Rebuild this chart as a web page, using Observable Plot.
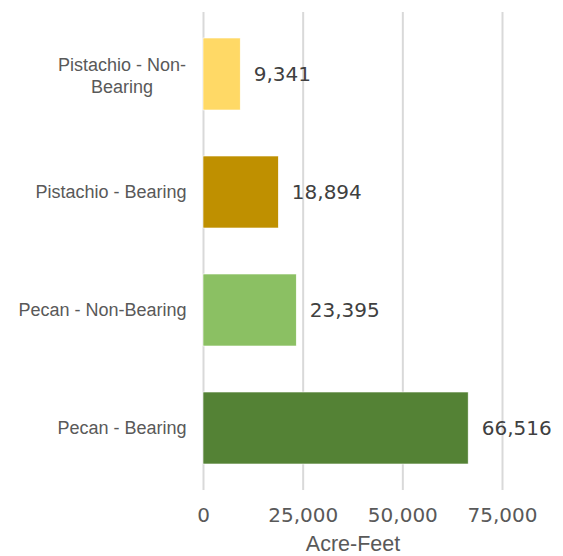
<!DOCTYPE html>
<html>
<head>
<meta charset="utf-8">
<script src="https://cdn.jsdelivr.net/npm/d3@7"></script>
<script src="https://cdn.jsdelivr.net/npm/@observablehq/plot@0.6"></script>
<style>
  html, body { margin: 0; padding: 0; background: #fff; }
  svg { display: block; }
</style>
</head>
<body>
<div id="chart"></div>
<script>
const categories = ["Pistachio - Non-\nBearing", "Pistachio - Bearing", "Pecan - Non-Bearing", "Pecan - Bearing"];
const values = [9341, 18894, 23395, 66516];
const colors = ["#FFD966", "#BF9000", "#8BC063", "#548235"];
const xTicks = [0, 25000, 50000, 75000];
const xLabel = "Acre-Feet";

const data = categories.map((c, i) => ({category: c, value: values[i], color: colors[i]}));
const fmt = d3.format(",");
const font = "'Liberation Sans', Arial, sans-serif";
const numFont = "'DejaVu Sans', sans-serif";

const chart = Plot.plot({
  width: 563,
  height: 556,
  marginLeft: 203,
  marginRight: 61,
  marginTop: 12,
  marginBottom: 66,
  style: {fontFamily: font, background: "#fff"},
  x: {domain: [0, 75000], axis: null},
  y: {domain: categories, paddingInner: 0.39, paddingOuter: 0.22, axis: null},
  marks: [
    Plot.gridX(xTicks, {stroke: "#d9d9d9", strokeOpacity: 1, strokeWidth: 2}),
    Plot.barX(data, {x: "value", y: "category", fill: "color", stroke: "#ffffff", strokeWidth: 0.6}),
    Plot.text(data, {x: "value", y: "category", text: d => fmt(d.value), textAnchor: "start", dx: 13, fontSize: 20, fontFamily: numFont, fill: "#404040"}),
    Plot.axisX(xTicks, {tickSize: 0, tickPadding: 17, tickFormat: fmt, fontSize: 20, fontFamily: numFont, fill: "#595959", label: null}),
    Plot.text(data.filter(d => !d.category.includes("\n")), {x: 0, y: "category", text: "category", textAnchor: "end", dx: -17, fontSize: 18, fill: "#595959"}),
    Plot.text(data.filter(d => d.category.includes("\n")), {x: 0, y: "category", text: "category", textAnchor: "middle", dx: -81.5, fontSize: 18, lineHeight: 1.22, fill: "#595959"}),
    Plot.text([xLabel], {frameAnchor: "bottom", lineAnchor: "middle", text: d => d, dy: 54, fontSize: 21.5, fill: "#595959"})
  ]
});
document.getElementById("chart").append(chart);
</script>
</body>
</html>
